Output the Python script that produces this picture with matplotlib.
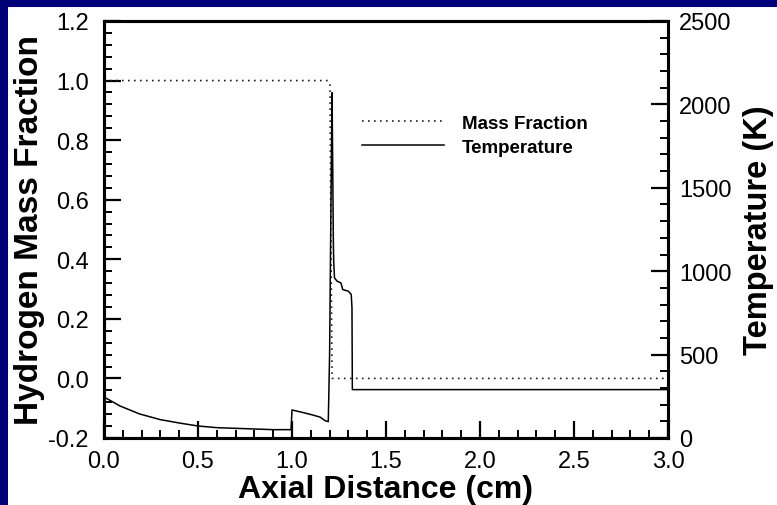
import matplotlib

matplotlib.use("Agg")
import matplotlib.pyplot as plt
from matplotlib.patches import Rectangle
from matplotlib.ticker import MultipleLocator

# hydrogen mass fraction along the axis (left axis)
mass_x = [0.0, 1.19, 1.202, 1.208, 1.213, 3.0]
mass_y = [1.0, 1.0, 0.985, 0.40, 0.0, 0.0]

# temperature along the axis (right axis, K)
temp_x = [0.0, 0.085, 0.19, 0.30, 0.40, 0.50, 0.60, 0.70, 0.80, 0.90, 0.995,
          1.0, 1.05, 1.11, 1.15, 1.176, 1.193, 1.200, 1.208, 1.213,
          1.216, 1.220, 1.222, 1.226, 1.24, 1.26, 1.27, 1.30, 1.315, 1.319,
          1.321, 3.0]
temp_y = [246, 192, 144, 110, 90, 72, 62, 58, 54, 50, 50,
          168, 155, 138, 125, 104, 98, 500, 1500, 2070,
          1700, 1170, 1050, 960, 940, 930, 890, 880, 860, 780,
          290, 290]

legend_labels = ["Mass Fraction", "Temperature"]

plt.rcParams["font.family"] = ["Liberation Sans", "DejaVu Sans"]

fig = plt.figure(figsize=(7.77, 5.06), dpi=100, facecolor="white")
# navy slide border on top and left
fig.patches.append(Rectangle((0, 1 - 8 / 506), 1, 8 / 506, transform=fig.transFigure,
                             facecolor="#000078", edgecolor="none", zorder=0))
fig.patches.append(Rectangle((0, 0), 8 / 777, 1, transform=fig.transFigure,
                             facecolor="#000078", edgecolor="none", zorder=0))

ax = fig.add_axes([104 / 777, 67 / 506, 564 / 777, 417 / 506])
ax2 = ax.twinx()

l1, = ax.plot(mass_x, mass_y, color="#222222", lw=1.2, linestyle=(0, (1, 2.6)))
l2, = ax2.plot(temp_x, temp_y, color="black", lw=1.1)

ax.set_xlim(0, 3.0)
ax.set_ylim(-0.2, 1.2)
ax2.set_ylim(0, 2500)

ax.xaxis.set_major_locator(MultipleLocator(0.5))
ax.xaxis.set_minor_locator(MultipleLocator(0.1))
ax.yaxis.set_major_locator(MultipleLocator(0.2))
ax.yaxis.set_minor_locator(MultipleLocator(0.04))
ax2.yaxis.set_major_locator(MultipleLocator(500))
ax2.yaxis.set_minor_locator(MultipleLocator(100))

ax.xaxis.set_major_formatter(plt.FuncFormatter(lambda v, p: f"{v:.1f}"))
ax.yaxis.set_major_formatter(plt.FuncFormatter(lambda v, p: f"{v:.1f}"))

for a in (ax, ax2):
    for s in a.spines.values():
        s.set_linewidth(2.2)
    a.tick_params(which="major", direction="in", length=12, width=1.6, labelsize=17)
    a.tick_params(which="minor", direction="in", length=6, width=1.4)

ax.tick_params(axis="both", which="both", top=False, right=False)
ax.tick_params(axis="x", which="major", pad=9)
ax.tick_params(axis="y", which="major", pad=11)
ax2.tick_params(axis="y", which="major", pad=8)

ax.set_xlabel("Axial Distance (cm)", fontsize=23, fontweight="bold", labelpad=1)
ax.set_ylabel("Hydrogen Mass Fraction", fontsize=24, fontweight="bold", labelpad=2)
ax2.set_ylabel("Temperature (K)", fontsize=23.5, fontweight="bold", labelpad=8)

ax2.legend([l1, l2], legend_labels, loc="upper left", bbox_to_anchor=(0.457, 0.775),
           frameon=False, prop={"weight": "bold", "size": 13.5},
           handlelength=4.4, handletextpad=0.95, labelspacing=0.35,
           borderaxespad=0, borderpad=0)

fig.savefig("out.png", dpi=100, facecolor=fig.get_facecolor())
